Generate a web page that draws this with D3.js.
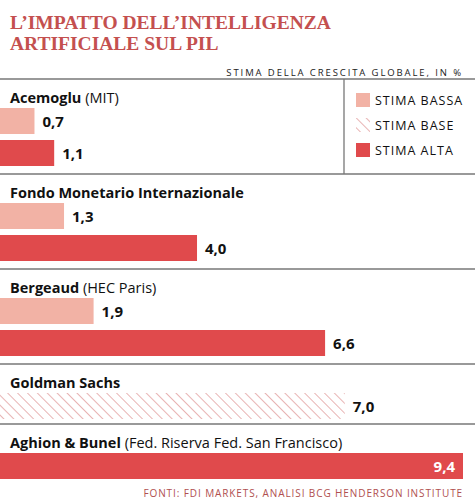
<!DOCTYPE html>
<html><head><meta charset="utf-8">
<script src="https://cdn.jsdelivr.net/npm/d3@7"></script>
<style>body{margin:0;background:#fff}</style></head>
<body><svg id="c" width="475" height="500"></svg>
<script>
const sources = ["Acemoglu","Fondo Monetario Internazionale","Bergeaud","Goldman Sachs","Aghion & Bunel"];
const sourceNotes = [" (MIT)",""," (HEC Paris)",""," (Fed. Riserva Fed. San Francisco)"];
const lowValues = [0.7,1.3,1.9,null,null];
const baseValues = [null,null,null,7.0,null];
const highValues = [1.1,4.0,6.6,null,9.4];
const legendLabels = ["STIMA BASSA","STIMA BASE","STIMA ALTA"];
const colors = {low:"#f2b2a5", base:"#d98080", high:"#e04a4c"};
const fmt = v => d3.format(".1f")(v).replace(".", ",");

const svg = d3.select("#c");
const defs = svg.append("defs");
const pat = defs.append("pattern").attr("id","hatch").attr("patternUnits","userSpaceOnUse")
  .attr("width",7).attr("height",7).attr("patternTransform","rotate(-45)");
pat.append("line").attr("x1",0).attr("y1",0).attr("x2",0).attr("y2",7).attr("stroke",colors.base).attr("stroke-width",1.2);

const x = d3.scaleLinear().domain([0,9.4]).range([0,463]);
const red = "#c4504f";
svg.append("text").attr("x",10).attr("y",29).attr("font-family","Liberation Serif").attr("font-weight","bold")
  .attr("font-size",19.5).attr("fill",red).text("L’IMPATTO DELL’INTELLIGENZA");
svg.append("text").attr("x",10).attr("y",50).attr("font-family","Liberation Serif").attr("font-weight","bold")
  .attr("font-size",19.5).attr("fill",red).text("ARTIFICIALE SUL PIL");
svg.append("text").attr("x",463).attr("y",76).attr("text-anchor","end").attr("font-family","Open Sans")
  .attr("font-size",9.5).attr("letter-spacing",1.9).attr("fill","#222").text("STIMA DELLA CRESCITA GLOBALE, IN %");

const hl = y => svg.append("line").attr("x1",0).attr("x2",475).attr("y1",y).attr("y2",y).attr("stroke","#777").attr("stroke-width",1.3);
let yTop = 79;
hl(yTop);
svg.append("line").attr("x1",344).attr("x2",344).attr("y1",79).attr("y2",174).attr("stroke","#777").attr("stroke-width",1.3);
sources.forEach((s,i)=>{
  const t = svg.append("text").attr("x",10).attr("y",yTop+24).attr("font-family","Open Sans").attr("font-size",14.5).attr("fill","#111");
  t.append("tspan").attr("font-weight","bold").text(s);
  t.append("tspan").text(sourceNotes[i]);
  const bars = [];
  if (lowValues[i]!=null) bars.push({v:lowValues[i], fill:colors.low});
  if (baseValues[i]!=null) bars.push({v:baseValues[i], fill:"url(#hatch)"});
  if (highValues[i]!=null) bars.push({v:highValues[i], fill:colors.high});
  bars.forEach((b,j)=>{
    const y0 = yTop+29+j*32;
    svg.append("rect").attr("x",0).attr("y",y0).attr("width",x(b.v)).attr("height",26).attr("fill",b.fill);
    const inside = x(b.v) > 420;
    svg.append("text").attr("x", inside ? x(b.v)-8 : x(b.v)+8).attr("y",y0+19)
      .attr("text-anchor", inside?"end":"start").attr("font-family","Open Sans").attr("font-weight","bold")
      .attr("font-size",15).attr("fill", inside?"#fff":"#111").text(fmt(b.v));
  });
  yTop += 25 + bars.length*35;
  if (i<sources.length-1) hl(yTop);
});
const lf = [colors.low,"url(#hatch)",colors.high];
legendLabels.forEach((l,i)=>{
  const y = 93+i*25;
  svg.append("rect").attr("x",356).attr("y",y).attr("width",14).attr("height",14).attr("fill",lf[i]);
  svg.append("text").attr("x",375).attr("y",y+12).attr("font-family","Open Sans").attr("font-size",12.5)
    .attr("letter-spacing",1).attr("fill","#111").text(l);
});
svg.append("text").attr("x",463).attr("y",497).attr("text-anchor","end").attr("font-family","Open Sans")
  .attr("font-size",10).attr("letter-spacing",0.9).attr("fill","#b0504f").text("FONTI: FDI MARKETS, ANALISI BCG HENDERSON INSTITUTE");
</script></body></html>
